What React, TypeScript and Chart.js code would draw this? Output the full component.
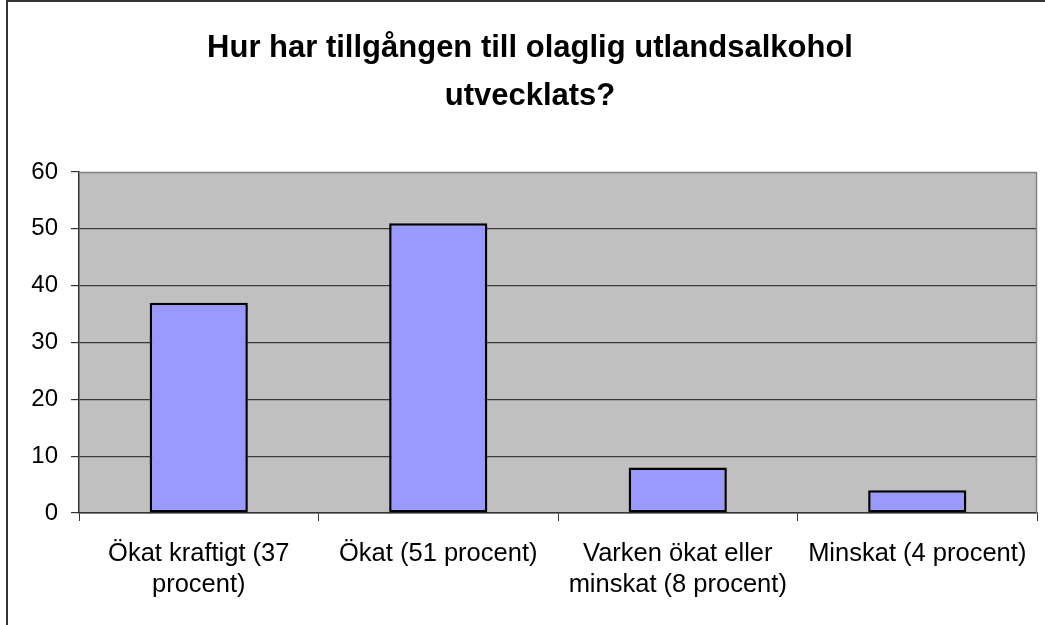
import React, { useEffect, useRef } from "react";
import { Chart, registerables } from "chart.js";

Chart.register(...registerables);

const categories: string[][] = [
  ["Ökat kraftigt (37", "procent)"],
  ["Ökat (51 procent)"],
  ["Varken ökat eller", "minskat (8 procent)"],
  ["Minskat (4 procent)"],
];
const values: number[] = [37, 51, 8, 4];
const titleLines: string[] = ["Hur har tillgången till olaglig utlandsalkohol", "utvecklats?"];
const yMin = 0;
const yMax = 60;
const yStep = 10;

const FONT = "'Liberation Sans', Arial, Helvetica, sans-serif";

const plotBg = {
  id: "plotBg",
  beforeDraw(chart: any) {
    const { ctx, chartArea } = chart;
    ctx.save();
    ctx.fillStyle = "#C0C0C0";
    ctx.fillRect(chartArea.left, chartArea.top, chartArea.right - chartArea.left, chartArea.bottom - chartArea.top);
    ctx.restore();
  },
  afterDraw(chart: any) {
    const { ctx, chartArea } = chart;
    ctx.save();
    ctx.strokeStyle = "#808080";
    ctx.lineWidth = 1.5;
    ctx.beginPath();
    ctx.moveTo(chartArea.left, chartArea.top + 0.5);
    ctx.lineTo(chartArea.right - 0.5, chartArea.top + 0.5);
    ctx.lineTo(chartArea.right - 0.5, chartArea.bottom);
    ctx.stroke();
    ctx.restore();
  },
};

export default function App() {
  const ref = useRef<HTMLCanvasElement | null>(null);
  useEffect(() => {
    if (!ref.current) return;
    const chart = new Chart(ref.current, {
      type: "bar",
      data: {
        labels: categories,
        datasets: [
          {
            data: values,
            backgroundColor: "#9999FF",
            borderColor: "#000000",
            borderWidth: 2.5,
            borderSkipped: false,
            categoryPercentage: 1,
            barPercentage: 0.41,
          },
        ],
      },
      options: {
        responsive: false,
        animation: false,
        layout: { padding: { left: 23, right: 8, top: 0, bottom: 0 } },
        plugins: {
          legend: { display: false },
          tooltip: { enabled: false },
          title: {
            display: true,
            text: titleLines,
            color: "#000000",
            font: { family: FONT, size: 31, weight: "bold", lineHeight: "48px" },
            padding: { top: 24, bottom: 52 },
          },
        },
        scales: {
          x: {
            grid: {
              drawOnChartArea: false,
              drawTicks: true,
              tickLength: 8,
              tickColor: "#333333",
              offset: true,
            },
            border: { color: "#333333", width: 1.5 },
            ticks: {
              color: "#000000",
              font: { family: FONT, size: 25.5, lineHeight: "31px" },
              padding: 17,
              maxRotation: 0,
              autoSkip: false,
            },
            afterFit(scale: any) {
              scale.height = 112;
            },
          },
          y: {
            min: yMin,
            max: yMax,
            grid: {
              color: (c: any) => (c.tick && c.tick.value === yMax ? "rgba(0,0,0,0)" : "#3a3a3a"),
              lineWidth: 1.2,
              tickLength: 8,
              tickColor: "#333333",
            },
            border: { color: "#333333", width: 1.5 },
            ticks: {
              stepSize: yStep,
              color: "#000000",
              font: { family: FONT, size: 24 },
              padding: 13,
            },
            afterFit(scale: any) {
              scale.width = 56;
            },
          },
        },
      },
      plugins: [plotBg],
    } as any);
    return () => chart.destroy();
  }, []);
  return (
    <div style={{ position: "absolute", left: 0, top: 0, width: 1045, height: 625, background: "#fff", overflow: "hidden" }}>
      <canvas ref={ref} width={1045} height={625} style={{ position: "absolute", left: 0, top: 0 }} />
      <div
        style={{
          position: "absolute",
          left: 6,
          top: 0,
          width: 1100,
          height: 700,
          borderLeft: "2px solid #333",
          borderTop: "2px solid #333",
          pointerEvents: "none",
        }}
      />
    </div>
  );
}
